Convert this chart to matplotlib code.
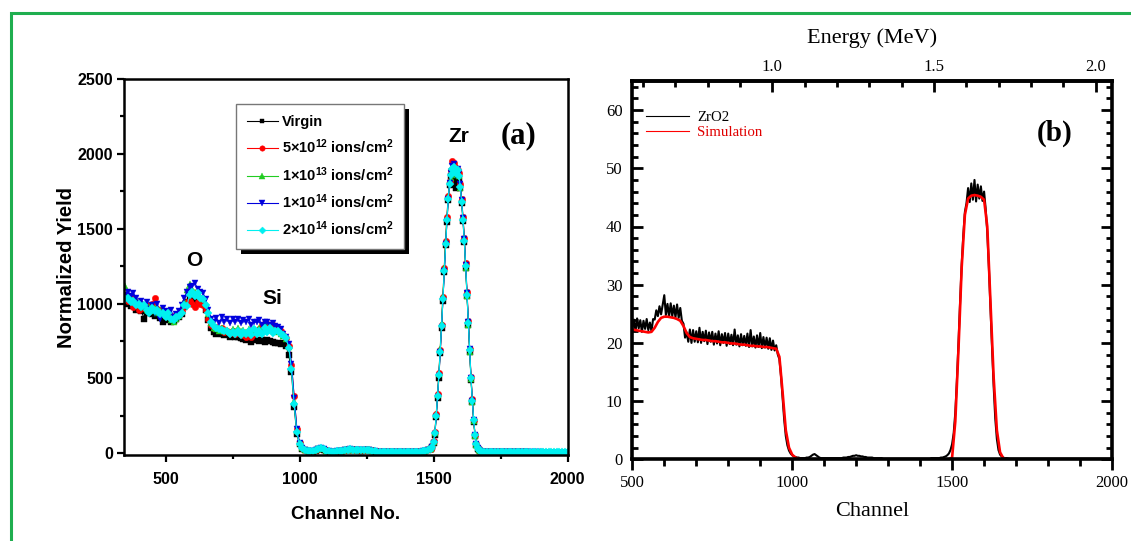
import matplotlib
matplotlib.use("Agg")
import matplotlib.pyplot as plt
import numpy as np
from matplotlib.patches import Rectangle
from matplotlib.ticker import MultipleLocator, FixedLocator, FormatStrFormatter
from matplotlib.font_manager import FontProperties

plt.rcParams["mathtext.fontset"] = "custom"
plt.rcParams["mathtext.rm"] = "Liberation Sans:bold"
plt.rcParams["mathtext.it"] = "Liberation Sans:bold"
plt.rcParams["mathtext.bf"] = "Liberation Sans:bold"

SANS = "Liberation Sans"
SERIF = "Liberation Serif"
W, H = 1131, 541

# ---------------- panel (a): RBS spectra, normalized yield ----------------
# channel grid: step 10, finer (step 5) across the Zr peak
ch_a = np.r_[np.arange(350, 1490, 10), np.arange(1490, 1681, 5), np.arange(1690, 2001, 10)]

labels_a = ["Virgin",
            "5\u00d710$^{12}$ ions/cm$^2$",
            "1\u00d710$^{13}$ ions/cm$^2$",
            "1\u00d710$^{14}$ ions/cm$^2$",
            "2\u00d710$^{14}$ ions/cm$^2$"]

virgin = [
    1000, 1010, 985, 990, 960, 975, 950, 900, 940, 945,        # 350-440
    930, 920, 925, 905, 880, 900, 890, 880, 885, 895,          # 450-540
    910, 930, 975, 1010, 1040, 1030, 1020, 1035, 1010, 1005,   # 550-640
    960, 890, 840, 810, 800, 805, 795, 790, 800, 780,          # 650-740
    785, 775, 780, 770, 765, 760, 770, 745, 765, 760,          # 750-840
    750, 760, 745, 755, 750, 745, 740, 735, 730, 735,          # 850-940
    720, 660, 540, 310, 130, 60, 30, 20, 14, 12,               # 950-1040
    12, 18, 28, 32, 25, 15, 11, 10, 10, 12,                    # 1050-1140
    14, 16, 20, 22, 24, 22, 22, 20, 18, 20,                    # 1150-1240
    22, 20, 16, 12, 10, 8, 8, 7, 7, 6,                         # 1250-1340
    6, 6, 7, 6, 6, 7, 6, 7, 8, 8,                              # 1350-1440
    10, 12, 15, 22,                                            # 1450-1480
    28, 40, 70, 125, 240, 370, 505, 670, 840, 1020,            # 1490-1535
    1210, 1390, 1545, 1690, 1790, 1850, 1880, 1840, 1800, 1770,
    1840, 1830, 1770, 1670, 1550, 1410, 1240, 1050, 860, 680,
    490, 340, 210, 115, 55, 32, 20, 13, 10,                    # -1680
    9, 9, 8, 8, 8, 7, 7, 7, 7, 7, 6, 6, 6, 6, 6, 6,            # 1690-
    6, 5, 5, 5, 5, 5, 5, 5, 5, 5, 5, 4, 4, 4, 4, 4,            # -2000
]

f5e12 = [
    1050, 1020, 1045, 980, 1010, 960, 1000, 970, 990, 950,
    1000, 1040, 965, 960, 950, 930, 945, 910, 920, 915,
    925, 950, 985, 1010, 1020, 1000, 980, 1010, 1000, 990,
    960, 900, 860, 840, 845, 830, 835, 810, 820, 805,
    815, 800, 810, 795, 790, 780, 790, 775, 800, 810,
    830, 860, 870, 865, 850, 855, 840, 830, 820, 790,
    770, 720, 590, 380, 160, 70, 38, 25, 18, 15,
    16, 22, 32, 38, 30, 20, 14, 13, 13, 15,
    17, 19, 23, 26, 28, 26, 25, 24, 22, 24,
    26, 24, 20, 15, 13, 11, 10, 10, 9, 9,
    9, 8, 9, 8, 8, 9, 8, 9, 10, 11,
    13, 15, 19, 27,
    30, 48, 80, 140, 260, 395, 535, 690, 860, 1045,
    1240, 1420, 1580, 1720, 1820, 1890, 1950, 1940, 1910, 1880,
    1890, 1870, 1800, 1700, 1580, 1440, 1270, 1080, 885, 700,
    510, 360, 225, 125, 62, 37, 23, 16, 12,
    11, 10, 10, 9, 9, 9, 8, 8, 8, 8, 8, 7, 7, 7, 7, 7,
    7, 6, 6, 6, 6, 6, 6, 6, 6, 5, 5, 5, 5, 5, 5, 5,
]

f1e13 = [
    1120, 1060, 1040, 1020, 1030, 990, 1000, 980, 960, 975,
    950, 970, 940, 960, 930, 920, 910, 890, 880, 900,
    920, 950, 1020, 1090, 1130, 1100, 1080, 1070, 1050, 1030,
    1000, 930, 870, 840, 830, 820, 835, 815, 825, 810,
    830, 820, 840, 815, 825, 810, 830, 805, 825, 820,
    835, 820, 880, 825, 840, 815, 830, 810, 800, 785,
    765, 710, 575, 350, 150, 68, 36, 24, 17, 14,
    15, 21, 31, 37, 29, 19, 13, 12, 12, 14,
    16, 18, 22, 25, 27, 25, 24, 23, 21, 23,
    25, 23, 19, 14, 12, 10, 10, 9, 9, 8,
    8, 8, 8, 8, 8, 8, 8, 9, 9, 10,
    12, 14, 18, 26,
    31, 46, 78, 138, 255, 390, 530, 700, 870, 1050,
    1240, 1420, 1575, 1710, 1810, 1840, 1880, 1900, 1870, 1860,
    1880, 1850, 1770, 1690, 1570, 1430, 1240, 1050, 860, 680,
    495, 345, 218, 118, 58, 34, 21, 14, 11,
    10, 10, 9, 9, 9, 8, 8, 8, 8, 8, 7, 7, 7, 7, 7, 7,
    6, 6, 6, 6, 6, 6, 6, 6, 5, 5, 5, 5, 5, 5, 5, 5,
]

f1e14 = [
    1060, 1080, 1050, 1070, 1040, 1000, 1020, 980, 1010, 960,
    990, 940, 1000, 900, 970, 950, 930, 960, 910, 930,
    950, 990, 1040, 1080, 1110, 1120, 1135, 1100, 1080, 1070,
    1030, 960, 900, 880, 905, 870, 910, 880, 900, 870,
    895, 880, 900, 870, 890, 875, 895, 860, 880, 875,
    890, 860, 875, 880, 860, 870, 850, 845, 830, 800,
    780, 730, 600, 370, 165, 72, 38, 24, 17, 14,
    15, 21, 30, 36, 28, 18, 13, 12, 12, 14,
    16, 18, 22, 25, 26, 25, 24, 22, 20, 22,
    24, 22, 18, 14, 12, 10, 10, 9, 9, 8,
    8, 8, 8, 8, 8, 8, 8, 9, 9, 10,
    12, 14, 18, 25,
    29, 44, 72, 130, 245, 375, 515, 675, 845, 1025,
    1215, 1395, 1555, 1700, 1805, 1870, 1920, 1930, 1890, 1860,
    1900, 1870, 1800, 1690, 1570, 1430, 1260, 1070, 880, 695,
    505, 352, 222, 122, 60, 35, 22, 15, 12,
    10, 9, 9, 9, 8, 8, 8, 8, 8, 7, 7, 7, 7, 7, 7, 6,
    6, 6, 6, 6, 6, 6, 5, 5, 5, 5, 5, 5, 5, 5, 4, 4,
]

f2e14 = [
    1030, 1040, 1010, 1020, 990, 1000, 980, 990, 960, 940,
    970, 950, 955, 930, 940, 910, 935, 900, 890, 910,
    915, 940, 990, 985, 1060, 1075, 1050, 1070, 1040, 1030,
    990, 940, 880, 850, 840, 830, 825, 815, 820, 800,
    810, 800, 820, 790, 810, 800, 815, 790, 830, 800,
    820, 800, 835, 810, 840, 805, 820, 815, 800, 790,
    770, 705, 560, 330, 140, 62, 34, 22, 16, 14,
    15, 20, 30, 35, 28, 18, 13, 12, 12, 14,
    16, 18, 22, 25, 26, 25, 24, 22, 20, 22,
    24, 22, 18, 14, 12, 10, 10, 9, 9, 8,
    8, 8, 8, 8, 8, 8, 8, 9, 9, 10,
    12, 14, 18, 25,
    30, 45, 75, 135, 250, 380, 520, 680, 850, 1030,
    1220, 1400, 1560, 1700, 1800, 1860, 1900, 1915, 1880, 1870,
    1890, 1850, 1780, 1680, 1560, 1420, 1250, 1060, 870, 690,
    500, 350, 220, 120, 60, 35, 22, 15, 12,
    11, 10, 10, 10, 9, 9, 9, 9, 9, 8, 8, 8, 8, 8, 8, 8,
    7, 7, 7, 7, 7, 7, 7, 6, 6, 6, 6, 6, 6, 6, 6, 6,
]

series_a = [virgin, f5e12, f1e13, f1e14, f2e14]
colors_a = ["#000000", "#ff0000", "#22cc22", "#0000dd", "#00f0f0"]
markers_a = ["s", "o", "^", "v", "D"]
msizes_a = [4.0, 4.6, 5.0, 5.0, 4.2]

# ---------------- panel (b): ZrO2 spectrum and simulation ----------------
ch_exp = np.arange(500, 2001, 5)
zro2 = [
    22.4, 24.0, 22.0, 24.2, 22.5, 23.9, 21.9, 23.8, 22.4, 24.1, 22.2, 23.5,   # 500-555
    22.0, 24.1, 24.0, 25.6, 24.6, 26.3, 24.9, 26.5,                           # 560-595
    28.2, 24.8, 26.7, 24.5, 26.8, 24.6, 26.4, 24.4, 26.6, 24.3, 26.0, 23.8,   # 600-655
    23.3, 20.9, 21.8, 20.2, 22.3, 20.0, 22.2, 20.2,                           # 660-695
    22.0, 20.1, 22.6, 20.0, 21.9, 20.3, 22.1, 19.8, 21.8, 20.2,               # 700-745
    21.9, 19.7, 21.6, 19.9, 22.0, 19.6, 21.5, 20.0, 21.7, 19.5,               # 750-795
    21.6, 19.8, 21.4, 19.6, 22.3, 19.7, 21.3, 19.4, 21.5, 19.6,               # 800-845
    21.2, 19.5, 21.6, 19.3, 22.2, 19.4, 21.1, 19.2, 21.3, 19.3,               # 850-895
    21.7, 19.1, 21.0, 19.2, 20.9, 19.0, 20.8, 18.8, 20.4, 18.7,               # 900-945
    19.6, 18.0, 17.2, 14.3, 10.5, 6.8, 4.0, 2.4, 1.5, 1.0, 0.7,               # 950-1000
    0.5, 0.4, 0.3, 0.3, 0.2, 0.2, 0.2, 0.2, 0.3, 0.3,                         # 1005-1050
    0.4, 0.6, 0.8, 0.9, 0.7, 0.5, 0.3, 0.2, 0.2,                              # 1055-1095
    0.2, 0.2, 0.2, 0.2, 0.2, 0.2, 0.2, 0.2, 0.2, 0.2,                         # 1100-1145
    0.2, 0.2, 0.3, 0.3, 0.3, 0.4, 0.4, 0.5, 0.6, 0.6,                         # 1150-1195
    0.7, 0.6, 0.6, 0.5, 0.5, 0.4, 0.4, 0.3, 0.3, 0.3,                         # 1200-1245
    0.3, 0.2, 0.2, 0.2, 0.2, 0.2, 0.2, 0.1, 0.1, 0.1,                         # 1250-1295
    0.1, 0.1, 0.1, 0.1, 0.1, 0.1, 0.1, 0.1, 0.1, 0.1,                         # 1300-1345
    0.1, 0.1, 0.1, 0.1, 0.1, 0.1, 0.1, 0.1, 0.1, 0.1,                         # 1350-1395
    0.1, 0.1, 0.1, 0.1, 0.1, 0.1, 0.1, 0.2, 0.2, 0.2,                         # 1400-1445
    0.2, 0.2, 0.2, 0.3, 0.3, 0.4, 0.5, 0.7, 1.0, 1.6,                         # 1450-1495
    2.6, 4.5, 8.0, 13.5, 20.0, 27.0, 33.5, 38.5, 42.5, 44.0,                  # 1500-1545
    46.6, 44.2, 47.4, 44.6, 48.0, 44.3, 47.2, 44.8, 46.9, 44.4,               # 1550-1595
    46.0, 43.0, 39.0, 33.0, 26.0, 19.0, 12.5, 7.0, 3.5, 1.6, 0.8, 0.5,        # 1600-1655
    0.3, 0.2, 0.2, 0.15, 0.1, 0.1, 0.1, 0.1, 0.1, 0.1,                        # 1660-1705
    0.1, 0.1, 0.1, 0.1, 0.1, 0.1, 0.1, 0.1, 0.1, 0.1,                         # 1710-1755
    0.1, 0.1, 0.1, 0.1, 0.1, 0.1, 0.1, 0.1, 0.1, 0.1,                         # 1760-1805
    0.1, 0.1, 0.1, 0.1, 0.1, 0.1, 0.1, 0.1, 0.1, 0.1,                         # 1810-1855
    0.1, 0.1, 0.1, 0.1, 0.1, 0.1, 0.1, 0.1, 0.1, 0.1,                         # 1860-1905
    0.1, 0.1, 0.1, 0.1, 0.1, 0.1, 0.1, 0.1, 0.1, 0.1,                         # 1910-1955
    0.1, 0.1, 0.1, 0.1, 0.1, 0.1, 0.1, 0.1, 0.1,                              # 1960-2000
]

ch_sim = np.arange(500, 2001, 10)
simulation = [
    22.3, 22.2, 22.1, 22.0, 21.9, 21.8, 21.9, 22.6, 23.6, 24.3,   # 500-590
    24.5, 24.5, 24.4, 24.3, 24.1, 23.8, 22.9, 21.7, 21.0, 20.8,   # 600-690
    20.7, 20.6, 20.5, 20.5, 20.4, 20.3, 20.3, 20.2, 20.1, 20.1,   # 700-790
    20.0, 19.9, 19.9, 19.8, 19.7, 19.7, 19.6, 19.5, 19.5, 19.4,   # 800-890
    19.4, 19.3, 19.3, 19.2, 19.1, 19.0, 17.6, 11.5, 5.0, 2.0,     # 900-990
    0.8, 0.3, 0.1, 0.0, 0.0, 0.0, 0.0, 0.0, 0.0, 0.0,             # 1000-1090
    0.0, 0.0, 0.0, 0.0, 0.0, 0.0, 0.0, 0.0, 0.0, 0.0,             # 1100-1190
    0.0, 0.0, 0.0, 0.0, 0.0, 0.0, 0.0, 0.0, 0.0, 0.0,             # 1200-1290
    0.0, 0.0, 0.0, 0.0, 0.0, 0.0, 0.0, 0.0, 0.0, 0.0,             # 1300-1390
    0.0, 0.0, 0.0, 0.0, 0.0, 0.0, 0.0, 0.0, 0.0, 0.0,             # 1400-1490
    0.3, 6.5, 19.0, 33.0, 42.0, 44.8, 45.3, 45.4, 45.3, 45.1,     # 1500-1590
    44.6, 40.0, 27.0, 14.0, 5.0, 1.2, 0.2, 0.0, 0.0, 0.0,         # 1600-1690
    0.0, 0.0, 0.0, 0.0, 0.0, 0.0, 0.0, 0.0, 0.0, 0.0,             # 1700-1790
    0.0, 0.0, 0.0, 0.0, 0.0, 0.0, 0.0, 0.0, 0.0, 0.0,             # 1800-1890
    0.0, 0.0, 0.0, 0.0, 0.0, 0.0, 0.0, 0.0, 0.0, 0.0,             # 1900-1990
    0.0,                                                          # 2000
]

energy_major = [1.0, 1.5, 2.0]
energy_minor = [0.6, 0.7, 0.8, 0.9, 1.1, 1.2, 1.3, 1.4, 1.6, 1.7, 1.8, 1.9]


def ch2e(ch):
    # energy calibration (1.0 MeV ~ ch 937, 2.0 MeV ~ ch 1949)
    return 1.0 + (np.asarray(ch) - 937.5) / 1011.5


def e2ch(e):
    return 937.5 + (np.asarray(e) - 1.0) * 1011.5


def px_axes(fig, left, top, right, bottom):
    return fig.add_axes([left / W, 1 - bottom / H, (right - left) / W, (bottom - top) / H])


fig = plt.figure(figsize=(W / 100, H / 100), dpi=100)

# green frame (left and top edges visible, the rest runs off the image)
fig.add_artist(Rectangle((10.5 / W, -0.1), 1.2, 1.1 - 12.5 / H,
                         transform=fig.transFigure, fill=False,
                         edgecolor="#1fae4f", linewidth=2.2))

# ---------- (a) ----------
ax1 = px_axes(fig, 124, 79, 567.5, 455)
for vals, lab, c, m, ms in zip(series_a, labels_a, colors_a, markers_a, msizes_a):
    ax1.plot(ch_a, vals, color=c, marker=m, markersize=ms, linewidth=0.8,
             markeredgewidth=0.3, markeredgecolor=c, label=lab)
ax1.set_xlim(345, 2000)
ax1.set_ylim(-11, 2500)
ax1.xaxis.set_major_locator(MultipleLocator(500))
ax1.xaxis.set_minor_locator(MultipleLocator(250))
ax1.yaxis.set_major_locator(MultipleLocator(500))
ax1.yaxis.set_minor_locator(MultipleLocator(250))
ax1.tick_params(which="both", direction="out", top=False, right=False, width=1.6,
                labelsize=11.5, pad=3)
ax1.tick_params(which="major", length=5)
ax1.tick_params(which="minor", length=3)
ax1.tick_params(axis="x", pad=7)
for sp in ax1.spines.values():
    sp.set_linewidth(1.8)
plt.setp(ax1.get_xticklabels() + ax1.get_yticklabels(), family=SANS, weight="bold")
ax1.set_xlabel("Channel No.", family=SANS, weight="bold", fontsize=13.5, labelpad=14)
ax1.set_ylabel("Normalized Yield", family=SANS, weight="bold", fontsize=14.5, labelpad=1)

ann = dict(family=SANS, weight="bold", fontsize=15, ha="center", va="center")
ax1.text(606, 1289, "O", **ann)
ax1.text(900, 1033, "Si", **ann)
ax1.text(1594, 2115, "Zr", **ann)
ax1.text(1818, 2122, "(a)", family=SERIF, weight="bold", fontsize=22, ha="center", va="center")

leg1 = ax1.legend(loc="upper left", bbox_to_anchor=((236 - 124) / 443.5, (455 - 104) / 376),
                  prop=FontProperties(family=SANS, weight="bold", size=10.5),
                  frameon=True, fancybox=False, framealpha=1, edgecolor="#777777",
                  borderpad=0.75, borderaxespad=0, handlelength=2.1, handletextpad=0.3,
                  labelspacing=0.6, markerscale=0.85)
leg1.get_frame().set_linewidth(1.0)

# ---------- (b) ----------
ax2 = px_axes(fig, 632.3, 81, 1112, 459.3)
ax2.plot(ch_exp, zro2, color="black", linewidth=1.5, label="ZrO2")
ax2.plot(ch_sim, simulation, color="#ff0000", linewidth=1.9, label="Simulation")
ax2.set_xlim(500, 2000)
ax2.set_ylim(0, 65)
ax2.xaxis.set_major_locator(MultipleLocator(500))
ax2.xaxis.set_minor_locator(MultipleLocator(100))
ax2.yaxis.set_major_locator(MultipleLocator(10))
ax2.yaxis.set_minor_locator(MultipleLocator(2))
ax2.tick_params(axis="x", which="both", direction="out", top=False, width=2.0, labelsize=12, pad=3)
ax2.tick_params(axis="x", which="major", length=8)
ax2.tick_params(axis="x", which="minor", length=5)
ax2.tick_params(axis="y", which="both", direction="in", right=True, width=2.0, labelsize=12, pad=7)
ax2.tick_params(axis="y", which="major", length=8)
ax2.tick_params(axis="y", which="minor", length=4.5)
for sp in ax2.spines.values():
    sp.set_linewidth(2.6)
plt.setp(ax2.get_xticklabels() + ax2.get_yticklabels(), family=SERIF)
ax2.set_xlabel("Channel", family=SERIF, fontsize=16, labelpad=8)

sec = ax2.secondary_xaxis("top", functions=(ch2e, e2ch))
sec.xaxis.set_major_locator(FixedLocator(energy_major))
sec.xaxis.set_minor_locator(FixedLocator(energy_minor))
sec.xaxis.set_major_formatter(FormatStrFormatter("%.1f"))
sec.tick_params(which="both", direction="in", width=2.0, labelsize=12, pad=4.5)
sec.tick_params(which="major", length=8)
sec.tick_params(which="minor", length=4.5)
sec.spines["top"].set_linewidth(2.6)
plt.setp(sec.get_xticklabels(), family=SERIF)
sec.set_xlabel("Energy (MeV)", family=SERIF, fontsize=16, labelpad=11)

ax2.text(1821, 56, "(b)", family=SERIF, weight="bold", fontsize=21, ha="center", va="center")

leg2 = ax2.legend(loc="upper left", bbox_to_anchor=((645.7 - 632.3) / 479.7, (459.3 - 111) / 378.3),
                  prop=FontProperties(family=SERIF, size=10.7), frameon=False,
                  borderpad=0, borderaxespad=0, handlelength=2.9, handletextpad=0.55,
                  labelspacing=0.08, labelcolor=["black", "#e00000"])
for ln in leg2.get_lines():
    ln.set_linewidth(0.8)

# black drop shadow behind the legend box of panel (a)
fig.canvas.draw()
bb = leg1.get_window_extent().transformed(ax1.transAxes.inverted())
dx = 5 / 443.5
dy = 5 / 376
ax1.add_patch(Rectangle((bb.x0 + dx, bb.y0 - dy), bb.width, bb.height,
                        transform=ax1.transAxes, facecolor="black", edgecolor="none",
                        zorder=4.9, clip_on=False))

fig.savefig("out.png", dpi=100)
